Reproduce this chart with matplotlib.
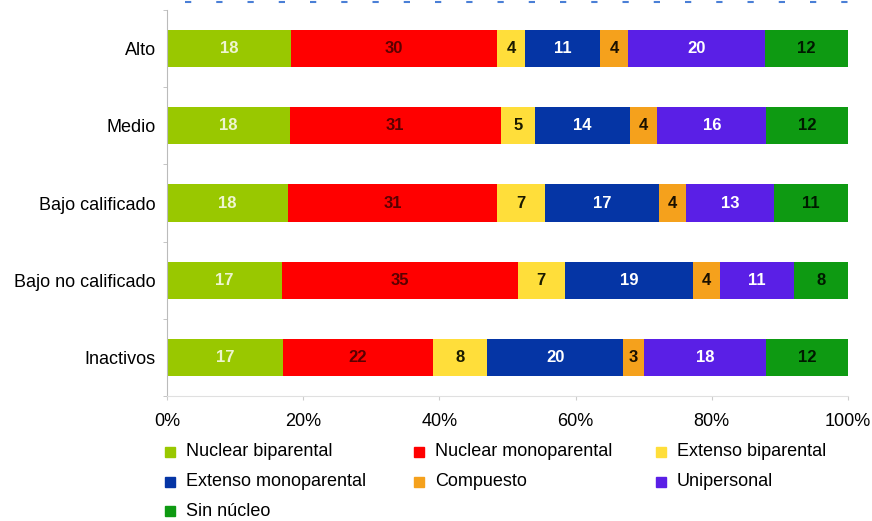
import matplotlib.pyplot as plt
import numpy as np
from matplotlib.lines import Line2D

plt.rcParams["font.family"] = ["Liberation Sans", "DejaVu Sans"]

categories = ["Alto", "Medio", "Bajo calificado", "Bajo no calificado", "Inactivos"]
series_names = [
    "Nuclear biparental",
    "Nuclear monoparental",
    "Extenso biparental",
    "Extenso monoparental",
    "Compuesto",
    "Unipersonal",
    "Sin núcleo",
]
nuclear_biparental = [18, 18, 18, 17, 17]
nuclear_monoparental = [30, 31, 31, 35, 22]
extenso_biparental = [4, 5, 7, 7, 8]
extenso_monoparental = [11, 14, 17, 19, 20]
compuesto = [4, 4, 4, 4, 3]
unipersonal = [20, 16, 13, 11, 18]
sin_nucleo = [12, 12, 11, 8, 12]
x_ticks = [0, 20, 40, 60, 80, 100]

series = [nuclear_biparental, nuclear_monoparental, extenso_biparental,
          extenso_monoparental, compuesto, unipersonal, sin_nucleo]
colors = ["#99c800", "#ff0000", "#ffde3a", "#0535a5", "#f5a11c", "#5a1fe6", "#0e9a12"]
text_colors = ["#eef5d0", "#5a0000", "#1a1a00", "#ffffff", "#1a1000", "#ffffff", "#001a00"]

vals = np.array(series, dtype=float)
pct = vals / vals.sum(axis=0) * 100

W, H = 872, 521
fig = plt.figure(figsize=(W / 100, H / 100), dpi=100)
ax = fig.add_axes([167 / W, 1 - 396 / H, 681 / W, 386 / H])

y = np.arange(len(categories))
left = np.zeros(len(categories))
for i, name in enumerate(series_names):
    ax.barh(y, pct[i], left=left, height=0.48, color=colors[i], label=name, linewidth=0)
    for j in range(len(categories)):
        ax.text(left[j] + pct[i][j] / 2, y[j], str(int(vals[i][j])), ha="center", va="center",
                fontsize=12, fontweight="bold", color=text_colors[i])
    left += pct[i]

ax.set_xlim(0, 100)
ax.set_ylim(len(categories) - 0.5, -0.5)
ax.set_yticks(y)
ax.set_yticklabels(categories, fontsize=13)
ax.set_yticks(np.arange(-0.5, len(categories) + 0.5, 1), minor=True)
ax.tick_params(axis="y", which="major", length=0, pad=8)
ax.tick_params(axis="y", which="minor", length=3, color="#bbbbbb", direction="out")
ax.set_xticks(x_ticks)
ax.set_xticklabels([f"{t}%" for t in x_ticks], fontsize=13)
ax.tick_params(axis="x", length=3, color="#cccccc", pad=9)

for s in ["top", "right"]:
    ax.spines[s].set_visible(False)
ax.spines["left"].set_color("#bbbbbb")
ax.spines["bottom"].set_color("#e0e0e0")

# legend laid out row by row, three columns
col_text_x = [186, 435, 677]
row_y = [452, 482, 511]
for k, name in enumerate(series_names):
    r, c = divmod(k, 3)
    tx = col_text_x[c] / W
    ty = 1 - row_y[r] / H
    fig.add_artist(Line2D([tx - 16 / W], [ty], marker="s", markersize=6.5, linestyle="",
                          markerfacecolor=colors[k], markeredgecolor=colors[k],
                          transform=fig.transFigure))
    fig.text(tx, ty, name, ha="left", va="center", fontsize=13)

# dashed border remnant at the top
fig.add_artist(Line2D([185 / W, 1], [1 - 1.5 / H, 1 - 1.5 / H], transform=fig.transFigure,
                      color="#4a7fd6", linewidth=1.5, dashes=(3, 12)))

fig.savefig("out.png", dpi=100)
